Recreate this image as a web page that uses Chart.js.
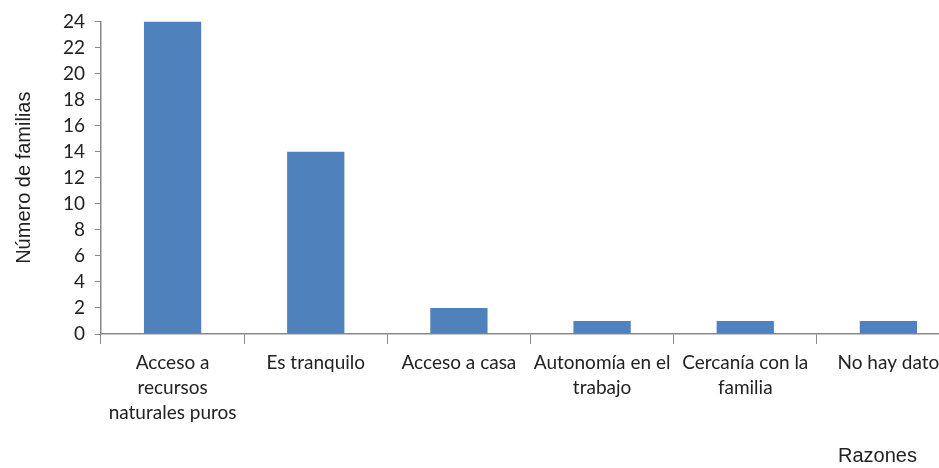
<!DOCTYPE html>
<html><head><meta charset="utf-8">
<script src="https://cdn.jsdelivr.net/npm/chart.js@4/dist/chart.umd.min.js"></script>
<style>
html,body{margin:0;padding:0;background:#fff;overflow:hidden;width:939px;height:468px;}
#wrap{position:relative;width:960px;height:468px;}
#xt{position:absolute;left:838px;top:444px;font:20px "Liberation Sans",Arial,sans-serif;color:#222;}
</style></head><body>
<div id="wrap"><canvas id="c"></canvas><div id="xt">Razones</div></div>
<script>
const categories = [["Acceso a","recursos","naturales puros"],"Es tranquilo","Acceso a casa",["Autonomía en el","trabajo"],["Cercanía con la","familia"],"No hay dato"];
const familias = [24, 14, 2, 1, 1, 1];
const yTicks = {min: 0, max: 24, step: 2};
const yTitle = "Número de familias";

new Chart(document.getElementById('c'), {
  type: 'bar',
  data: {labels: categories, datasets: [{data: familias, backgroundColor: '#4f81bd', borderWidth: 0, categoryPercentage: 1, barPercentage: 0.4}]},
  options: {
    responsive: true, maintainAspectRatio: false, animation: false,
    layout: {padding: {top: 20, right: 0, left: 0, bottom: 0}},
    plugins: {legend: {display: false}, tooltip: {enabled: false}},
    scales: {
      x: {
        grid: {display: true, drawOnChartArea: false, drawTicks: true, tickLength: 10, color: '#8a8a8a', offset: true},
        border: {color: '#8a8a8a', width: 1.5},
        ticks: {color: '#222', font: {family: 'Lato, "Open Sans", sans-serif', size: 19, lineHeight: 1.32}, padding: 6, maxRotation: 0, autoSkip: false},
        afterFit: (a) => { a.height = 134; }
      },
      y: {
        min: yTicks.min, max: yTicks.max,
        grid: {display: true, drawOnChartArea: false, drawTicks: true, tickLength: 6, color: '#8a8a8a'},
        border: {color: '#8a8a8a', width: 1.5},
        ticks: {stepSize: yTicks.step, color: '#222', font: {family: 'Lato, "Open Sans", sans-serif', size: 19}, padding: 10},
        title: {display: true, text: yTitle, color: '#222', font: {family: '"Liberation Sans", Arial, sans-serif', size: 20}, padding: {top: 12, bottom: 0}},
        afterFit: (a) => { a.width = 101; }
      }
    }
  }
});
</script></body></html>
